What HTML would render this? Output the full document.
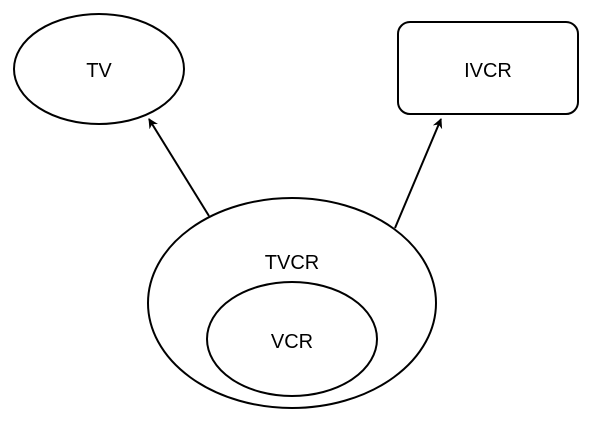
<!DOCTYPE html>
<html><head><meta charset="utf-8"><style>
html,body{margin:0;padding:0;background:#fff;}
svg{display:block;}
text{font-family:"Liberation Sans",Arial,sans-serif;font-size:20px;fill:#000;}
</style></head><body>
<svg width="613" height="425" viewBox="0 0 613 425" xmlns="http://www.w3.org/2000/svg">
<defs><marker id="a" markerWidth="10" markerHeight="10" refX="9" refY="5" orient="auto" markerUnits="userSpaceOnUse"><path d="M0,0 L10,5 L0,10 L3,5 Z" fill="#000"/></marker></defs>
<g fill="none" stroke="#000" stroke-width="2">
<ellipse cx="99" cy="69" rx="85" ry="55" fill="#fff"/>
<rect x="398" y="22" width="180" height="92" rx="12" fill="#fff"/>
<ellipse cx="292" cy="303" rx="144" ry="105" fill="#fff"/>
<ellipse cx="292" cy="339" rx="85" ry="57" fill="#fff"/>
<line x1="209" y1="216" x2="149" y2="119" marker-end="url(#a)"/>
<line x1="395" y1="228" x2="441" y2="119" marker-end="url(#a)"/>
</g>
<text x="99" y="77" text-anchor="middle">TV</text>
<text x="488" y="77" text-anchor="middle">IVCR</text>
<text x="292" y="269" text-anchor="middle">TVCR</text>
<text x="292" y="348" text-anchor="middle">VCR</text>
</svg>
</body></html>
